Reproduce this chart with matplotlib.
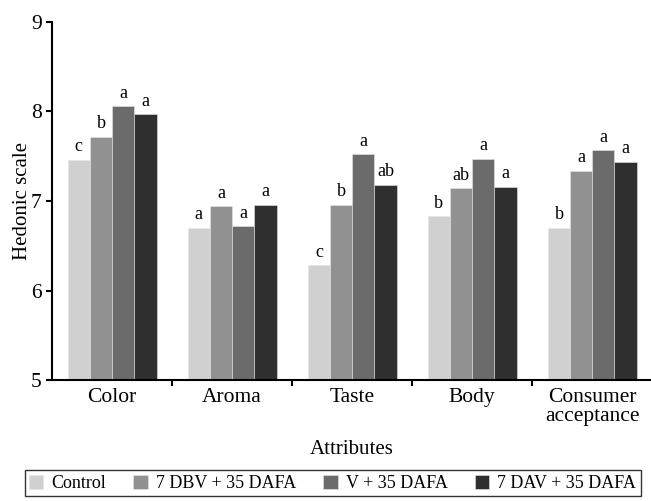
import matplotlib.pyplot as plt
import numpy as np

plt.rcParams['font.family'] = 'Liberation Serif'

attributes = ['Color', 'Aroma', 'Taste', 'Body', 'Consumer\nacceptance']
treatments = ['Control', '7 DBV + 35 DAFA', 'V + 35 DAFA', '7 DAV + 35 DAFA']
control = [7.46, 6.70, 6.28, 6.83, 6.70]
dbv = [7.72, 6.94, 6.96, 7.14, 7.34]
v = [8.06, 6.72, 7.52, 7.47, 7.57]
dav = [7.97, 6.96, 7.18, 7.16, 7.44]
letters_control = ['c', 'a', 'c', 'b', 'b']
letters_dbv = ['b', 'a', 'b', 'ab', 'a']
letters_v = ['a', 'a', 'a', 'a', 'a']
letters_dav = ['a', 'a', 'ab', 'a', 'a']

series = [control, dbv, v, dav]
letters = [letters_control, letters_dbv, letters_v, letters_dav]
colors = ['#d0d0d0', '#919191', '#6b6b6b', '#2f2f2f']

fig = plt.figure(figsize=(6.51, 5.01), dpi=100)
ax = fig.add_axes([0.08, 0.2415, 0.922, 0.7146])

x = np.arange(len(attributes))
w = 0.185
for i in range(4):
    pos = x + (i - 1.5) * w
    ax.bar(pos, series[i], w, bottom=0, color=colors[i], label=treatments[i],
           edgecolor='#e6e6e6', linewidth=0.4)
    for px, val, lab in zip(pos, series[i], letters[i]):
        ax.text(px, val + 0.05, lab, ha='center', va='bottom', fontsize=13)

ax.set_ylim(5, 9)
ax.set_xlim(-0.5, 4.5)
ax.set_yticks([5, 6, 7, 8, 9])
ax.set_xticks(x)
ax.set_xticklabels(attributes, fontsize=15.5, linespacing=0.95)
ax.set_xticks([0.5, 1.5, 2.5, 3.5], minor=True)
ax.tick_params(axis='x', which='major', length=0, pad=6)
ax.tick_params(axis='x', which='minor', length=4, width=1.5, direction='out')
ax.tick_params(axis='y', labelsize=15.5, length=4, width=1.5, direction='out')
for s in ['top', 'right']:
    ax.spines[s].set_visible(False)
for s in ['left', 'bottom']:
    ax.spines[s].set_linewidth(1.5)
ax.spines['bottom'].set_zorder(5)

ax.set_ylabel('Hedonic scale', fontsize=15)
ax.yaxis.set_label_coords(-0.034, 0.5)
ax.set_xlabel('Attributes', fontsize=15, labelpad=10)

leg = fig.legend(loc='lower center', bbox_to_anchor=(0.511, 0.002), ncol=4,
                 fontsize=13, frameon=True, fancybox=False, edgecolor='black',
                 handlelength=0.8, handleheight=0.8, handletextpad=0.45,
                 columnspacing=1.5, borderpad=0.25, borderaxespad=0.2)
leg.get_frame().set_linewidth(1.0)

fig.savefig('out.png', dpi=100)
